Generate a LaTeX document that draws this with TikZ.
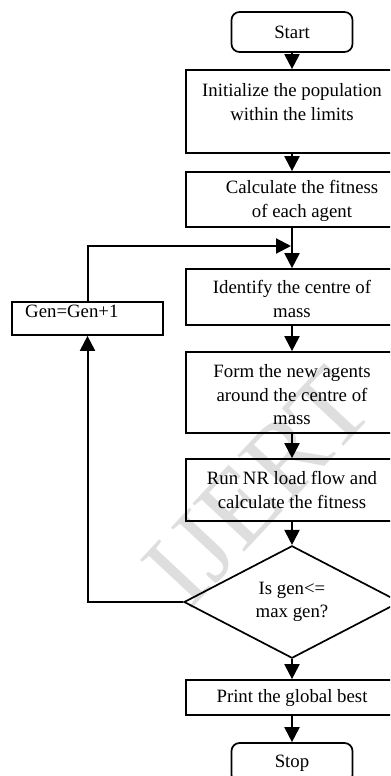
\documentclass[tikz,border=0pt]{standalone}
\usepackage{fontspec}
\setmainfont{Liberation Serif}
\usetikzlibrary{arrows.meta,shapes.geometric}
\begin{document}
\begin{tikzpicture}[x=1bp,y=-1bp,
  font=\fontsize{18.8bp}{23.5bp}\selectfont,
  box/.style={draw,line width=1.7bp,inner sep=0pt,minimum width=212bp,align=center},
  term/.style={draw,line width=1.7bp,inner sep=0pt,rounded corners=8bp,minimum width=121bp,minimum height=40bp},
  txt/.style={inner sep=0pt,align=center},
  dec/.style={draw,diamond,line width=1.7bp,inner sep=0pt,minimum width=216bp,minimum height=102bp,align=center},
  arr/.style={line width=2bp,-{Triangle[width=15bp,length=15bp]}},
  wm/.style={text=black!13,font=\fontsize{108bp}{108bp}\selectfont,rotate=47,inner sep=0pt}
]
\useasboundingbox (0,0) rectangle (390,776);
\clip (0,0) rectangle (390,776);
% watermark
\node[wm] (water) at (258,487) {IJERT};
% nodes
\node[term] (start) at (292,32) {Start};
\node[box,minimum height=83bp] (init) at (292,111.5) {};
\node[txt] (initT) at (292,102) {Initialize the population\\within the limits};
\node[box,minimum height=55bp] (calc) at (292,199.5) {};
\node[txt] (calcT) at (302,201) {Calculate the fitness\\of each agent};
\node[box,minimum height=56bp] (ident) at (292,297) {};
\node[txt] (identT) at (292,299) {Identify the centre of\\mass};
\node[box,minimum height=81bp] (form) at (292,392.5) {};
\node[txt] (formT) at (292,395) {Form the new agents\\around the centre of\\mass};
\node[box,minimum height=62bp] (run) at (292,490) {Run NR load flow and\\calculate the fitness};
\node[dec] (dec) at (292,602) {Is gen<=\\max gen?};
\node[box,minimum height=35bp] (print) at (292,697.5) {Print the global best};
\node[term] (stop) at (292,763) {Stop};
\node[box,minimum width=151bp,minimum height=33bp] (gen) at (87.5,318.5) {};
\node[txt,anchor=base west] (genT) at (25,317) {Gen=Gen+1};
\coordinate (join) at (291,246);
% connectors
\draw[arr] (start.south) -- (init.north);
\draw[arr] (init.south) -- (calc.north);
\draw[arr] (calc.south) -- (ident.north);
\draw[arr] (ident.south) -- (form.north);
\draw[arr] (form.south) -- (run.north);
\draw[arr] (run.south) -- (dec.north);
\draw[arr] (dec.south) -- (print.north);
\draw[arr] (print.south) -- (stop.north);
\draw[arr] (gen.north) |- (join);
\draw[arr] (dec.west) -| (gen.south);
\end{tikzpicture}
\end{document}
